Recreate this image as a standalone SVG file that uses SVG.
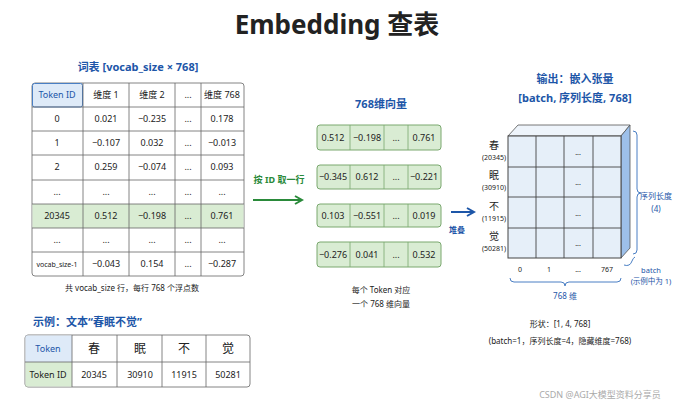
<svg xmlns="http://www.w3.org/2000/svg" width="674" height="410" viewBox="0 0 674 410">
<style>
text{font-family:"Noto Sans","Noto Sans CJK SC",sans-serif;text-anchor:middle;fill:#222}
.t{font-size:9px}
.s{font-size:7px}
.blue{fill:#1d56a8;font-weight:bold}
.g{fill:#fff;stroke:#666;stroke-width:0.8}
.v{fill:#d9ecd3;stroke:#7aa86f;stroke-width:1}
.ln{stroke:#666;stroke-width:0.8}
.vl{stroke:#7aa86f;stroke-width:0.8}
.br{fill:none;stroke:#4a7fc4;stroke-width:1}
</style>
<defs>
<marker id="ag" markerWidth="10" markerHeight="10" refX="8" refY="5" orient="auto" markerUnits="userSpaceOnUse"><path d="M1,1 L8,5 L1,9" fill="none" stroke="#2a8a3a" stroke-width="2"/></marker>
<marker id="ab" markerWidth="10" markerHeight="10" refX="8" refY="5" orient="auto" markerUnits="userSpaceOnUse"><path d="M1,1 L8,5 L1,9" fill="none" stroke="#1d56a8" stroke-width="2"/></marker>
</defs>
<rect width="674" height="410" fill="#fff"/>
<text x="337" y="34" style="font-size:26px;font-weight:bold;font-family:'Noto Sans','Noto Sans CJK SC',sans-serif" fill="#111">Embedding 查表</text>

<g id="vocab">
<text x="138" y="71" class="blue" style="font-size:11px">词表 [vocab_size × 768]</text>
<rect x="32" y="83" width="212" height="193" rx="3" class="g"/>
<rect x="32.5" y="83.5" width="50" height="23.5" rx="2" fill="#deeaf8" stroke="#4a7fc4"/>
<rect x="32.5" y="204" width="211" height="24" fill="#d9ecd3"/>
<g class="ln">
<line x1="32" y1="107" x2="244" y2="107"/><line x1="32" y1="131" x2="244" y2="131"/><line x1="32" y1="155" x2="244" y2="155"/><line x1="32" y1="180" x2="244" y2="180"/><line x1="32" y1="204" x2="244" y2="204"/><line x1="32" y1="228" x2="244" y2="228"/><line x1="32" y1="252" x2="244" y2="252"/>
<line x1="83" y1="83" x2="83" y2="276"/><line x1="129" y1="83" x2="129" y2="276"/><line x1="175" y1="83" x2="175" y2="276"/><line x1="201" y1="83" x2="201" y2="276"/>
</g>
<g class="t">
<text x="57" y="98" fill="#1d56a8" style="fill:#1d56a8">Token ID</text><text x="106" y="98">维度 1</text><text x="152" y="98">维度 2</text><text x="188" y="98">...</text><text x="222" y="98">维度 768</text>
<text x="57" y="122">0</text><text x="106" y="122">0.021</text><text x="152" y="122">−0.235</text><text x="188" y="122">...</text><text x="222" y="122">0.178</text>
<text x="57" y="146">1</text><text x="106" y="146">−0.107</text><text x="152" y="146">0.032</text><text x="188" y="146">...</text><text x="222" y="146">−0.013</text>
<text x="57" y="170">2</text><text x="106" y="170">0.259</text><text x="152" y="170">−0.074</text><text x="188" y="170">...</text><text x="222" y="170">0.093</text>
<text x="57" y="195">...</text><text x="106" y="195">...</text><text x="152" y="195">...</text><text x="188" y="195">...</text><text x="222" y="195">...</text>
<text x="57" y="219">20345</text><text x="106" y="219">0.512</text><text x="152" y="219">−0.198</text><text x="188" y="219">...</text><text x="222" y="219">0.761</text>
<text x="57" y="243">...</text><text x="106" y="243">...</text><text x="152" y="243">...</text><text x="188" y="243">...</text><text x="222" y="243">...</text>
<text x="57" y="267" class="s">vocab_size-1</text><text x="106" y="267">−0.043</text><text x="152" y="267">0.154</text><text x="188" y="267">...</text><text x="222" y="267">−0.287</text>
</g>
<text x="132" y="291" class="s" style="font-size:8px">共 vocab_size 行，每行 768 个浮点数</text>
</g>

<g id="example">
<text x="33" y="326" class="blue" style="font-size:11px;text-anchor:start">示例：文本“春眠不觉”</text>
<rect x="25" y="335" width="225" height="52" rx="3" class="g"/>
<rect x="25.5" y="335.5" width="46.5" height="26.5" fill="#deeaf8"/>
<rect x="25.5" y="362" width="46.5" height="24.5" fill="#d9ecd3"/>
<g class="ln"><line x1="25" y1="362" x2="250" y2="362"/><line x1="72" y1="335" x2="72" y2="387"/><line x1="117" y1="335" x2="117" y2="387"/><line x1="162" y1="335" x2="162" y2="387"/><line x1="206" y1="335" x2="206" y2="387"/></g>
<text x="48" y="352" class="t" style="fill:#1d56a8">Token</text>
<text x="94" y="353" style="font-size:12px">春</text><text x="140" y="353" style="font-size:12px">眠</text><text x="184" y="353" style="font-size:12px">不</text><text x="228" y="353" style="font-size:12px">觉</text>
<text x="48" y="378" class="t">Token ID</text><text x="94" y="378" class="t">20345</text><text x="140" y="378" class="t">30910</text><text x="184" y="378" class="t">11915</text><text x="228" y="378" class="t">50281</text>
</g>

<g id="vectors">
<text x="381" y="108" class="blue" style="font-size:11px">768维向量</text>
<g>
<rect x="317" y="125" width="124" height="25" rx="3" class="v"/>
<rect x="317" y="165" width="124" height="24" rx="3" class="v"/>
<rect x="317" y="204" width="124" height="23" rx="3" class="v"/>
<rect x="317" y="242" width="124" height="25" rx="3" class="v"/>
<g class="vl">
<line x1="350" y1="125" x2="350" y2="150"/><line x1="384" y1="125" x2="384" y2="150"/><line x1="408" y1="125" x2="408" y2="150"/>
<line x1="350" y1="165" x2="350" y2="189"/><line x1="384" y1="165" x2="384" y2="189"/><line x1="408" y1="165" x2="408" y2="189"/>
<line x1="350" y1="204" x2="350" y2="227"/><line x1="384" y1="204" x2="384" y2="227"/><line x1="408" y1="204" x2="408" y2="227"/>
<line x1="350" y1="242" x2="350" y2="267"/><line x1="384" y1="242" x2="384" y2="267"/><line x1="408" y1="242" x2="408" y2="267"/>
</g>
<g class="t">
<text x="333" y="141">0.512</text><text x="367" y="141">−0.198</text><text x="396" y="141">...</text><text x="424" y="141">0.761</text>
<text x="333" y="180">−0.345</text><text x="367" y="180">0.612</text><text x="396" y="180">...</text><text x="424" y="180">−0.221</text>
<text x="333" y="219">0.103</text><text x="367" y="219">−0.551</text><text x="396" y="219">...</text><text x="424" y="219">0.019</text>
<text x="333" y="258">−0.276</text><text x="367" y="258">0.041</text><text x="396" y="258">...</text><text x="424" y="258">0.532</text>
</g>
</g>
<text x="381" y="293" class="s" style="font-size:8px">每个 Token 对应</text>
<text x="381" y="307" class="s" style="font-size:8px">一个 768 维向量</text>
</g>

<g id="tensor">
<text x="575" y="83" class="blue" style="font-size:11px">输出：嵌入张量</text>
<text x="575" y="102" class="blue" style="font-size:11px">[batch, 序列长度, 768]</text>
<polygon points="508,136 518,125 630,125 621,136" fill="#eef4fb" stroke="#555" stroke-width="0.8"/>
<polygon points="621,136 630,125 630,248 621,258" fill="#9dc0ea" stroke="#555" stroke-width="0.8"/>
<rect x="508" y="136" width="113" height="122" fill="#e6eff9" stroke="#444" stroke-width="1"/>
<g stroke="#444" stroke-width="0.9">
<line x1="536" y1="136" x2="536" y2="258"/><line x1="564" y1="136" x2="564" y2="258"/><line x1="593" y1="136" x2="593" y2="258"/>
<line x1="508" y1="167" x2="621" y2="167"/><line x1="508" y1="197" x2="621" y2="197"/><line x1="508" y1="228" x2="621" y2="228"/>
</g>
<g class="s"><text x="578" y="155">...</text><text x="578" y="185">...</text><text x="578" y="216">...</text><text x="578" y="246">...</text></g>
<g>
<text x="494" y="149" style="font-size:10px">春</text><text x="494" y="160" class="s">(20345)</text>
<text x="494" y="179" style="font-size:10px">眠</text><text x="494" y="190" class="s">(30910)</text>
<text x="494" y="210" style="font-size:10px">不</text><text x="494" y="221" class="s">(11915)</text>
<text x="494" y="240" style="font-size:10px">觉</text><text x="494" y="251" class="s">(50281)</text>
</g>
<g class="s"><text x="520" y="272">0</text><text x="549" y="272">1</text><text x="578" y="272">...</text><text x="607" y="272">767</text></g>
<path d="M510,278 q0,4 4,4 h47 q4,0 4,4 q0,-4 4,-4 h48 q4,0 4,-4" class="br"/>
<text x="565" y="299" class="s" style="fill:#1d56a8;font-size:8px">768 维</text>
<path d="M633,131 q4,0 4,4 v54 q0,4 4,4 q-4,0 -4,4 v53 q0,4 -4,4" class="br"/>
<text x="656" y="199" class="s" style="fill:#1d56a8;font-size:8px">序列长度</text>
<text x="656" y="212" class="s" style="fill:#1d56a8;font-size:8px">(4)</text>
<path d="M624,265 q6,2 8,-4 q1,-3 3,-4" class="br"/>
<text x="651" y="273" class="s" style="fill:#1d56a8;font-size:7.5px">batch</text>
<text x="651" y="284" class="s" style="fill:#1d56a8;font-size:7.5px">(示例中为 1)</text>
<text x="560" y="327" class="s" style="font-size:8px">形状：[1, 4, 768]</text>
<text x="560" y="344" class="s" style="font-size:8px">(batch=1，序列长度=4，隐藏维度=768)</text>
</g>

<g id="connectors">
<text x="279" y="183" style="font-size:9px;fill:#2a8a3a;font-weight:bold">按 ID 取一行</text>
<line x1="253" y1="200" x2="302" y2="200" stroke="#2a8a3a" stroke-width="2" marker-end="url(#ag)"/>
<line x1="451" y1="212" x2="474" y2="212" stroke="#1d56a8" stroke-width="2" marker-end="url(#ab)"/>
<text x="457" y="233" style="font-size:8px;fill:#1d56a8;font-weight:bold">堆叠</text>
</g>
<text x="600" y="398" style="font-size:9px;fill:#aaa">CSDN @AGI大模型资料分享员</text>
</svg>
